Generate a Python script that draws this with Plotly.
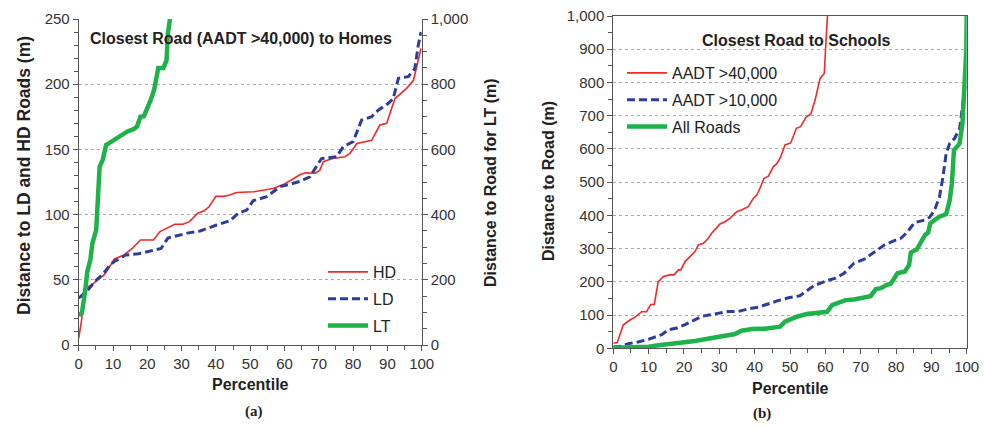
import plotly.graph_objects as go

# ---------------- data: panel (a) homes ----------------
hd_pct = [0, 0.9, 1.5, 3.7, 5.1, 7.5, 9, 10.4, 13.2, 15.6, 18, 21.8, 23.7, 26, 28, 30.4,
          32.3, 34.7, 36.6, 38, 40, 42.3, 44, 46, 51, 56.7, 59.6, 62, 64.5, 66, 69, 70.3,
          71.3, 74, 77.6, 79.1, 81.1, 85.4, 87.8, 89.8, 91.1, 92.2, 95.6, 97.6, 99, 99.8]
hd_dist = [5, 20, 43, 46, 49, 54, 60, 66, 69, 74, 80.5, 80.5, 87, 90, 92.6, 92.6,
           94.6, 101, 103, 106, 114, 114, 115, 117, 117.5, 120, 123, 126.5, 130.5, 132, 131.7, 134,
           140.6, 143, 144.4, 147, 154.5, 157, 168.7, 170, 180, 189, 196.8, 203, 218.6, 227.5]

ld_pct = [0, 2.3, 4.2, 5.6, 7, 9, 10.4, 13.7, 17.5, 21.3, 24, 26, 29, 32, 35.4, 37.5,
          40.2, 44.1, 46.5, 49, 50.9, 54.8, 58.7, 62.6, 64.5, 67.4, 70.8, 75.2, 77.1, 80,
          82.5, 85.4, 87.3, 90.3, 91.7, 93.2, 96.1, 98, 99, 99.8]
ld_dist = [36, 41, 47, 51, 54, 61, 64, 69, 70, 72, 74, 82, 84, 86, 87.4, 89.5,
           92, 95.3, 101, 103.5, 110.7, 113.7, 121.4, 124, 125.5, 129, 143, 144.4, 152, 156,
           172.5, 175, 180, 185.3, 189, 204.5, 205.8, 212, 230, 240]

lt_pct = [0, 0.9, 1.8, 2.5, 3.4, 4, 5.1, 6.1, 7, 8, 9, 10.4, 12.3, 14.2, 16, 17, 18, 19,
          21, 22, 23.2, 24.7, 25.6, 26, 26.6]
lt_dist = [92, 97, 158, 225, 261, 312, 353, 547, 568, 614, 620, 630, 645, 655, 662, 670, 700, 702,
           752, 783, 850, 850, 873, 955, 1000]

# ---------------- data: panel (b) schools ----------------
a40_pct = [0, 1.1, 2.8, 4.7, 6.1, 8, 9.4, 10.6, 11.6, 12.7, 14.2, 16, 17.2, 18.4, 19.1, 20.3,
           21.7, 23.1, 24.1, 25.5, 26.9, 27.8, 29.1, 30.2, 31.6, 33, 34.9, 36.3, 38.2, 39.6,
           40.6, 41.5, 42.6, 43.9, 45.3, 46.2, 47.2, 48.6, 50.2, 51.8, 53, 54.5, 55.9, 57.1,
           58.5, 59.7, 60.2, 60.6]
a40_dist = [15, 17, 70, 85, 93, 110, 110, 132, 132, 200, 216, 221, 221, 236, 236, 261,
            276, 291, 311, 316, 331, 346, 361, 374, 381, 391, 411, 416, 426, 451,
            461, 481, 511, 518, 547, 555, 572, 612, 618, 662, 667, 695, 705, 747,
            812, 827, 928, 1000]

a10_pct = [0, 2.4, 4.2, 7, 9.9, 11.8, 13.7, 15.6, 18, 20.3, 23.1, 25, 27.4, 29.8, 32.6, 35.4,
           38.3, 41.1, 43.9, 46.8, 49.6, 51.5, 52.8, 54.1, 56.7, 60.5, 62.9, 65.3, 68.1, 71,
           74.3, 76.7, 79.5, 81.4, 83.3, 85.2, 88.1, 89.5, 90.9, 92.3, 93.3, 94.2, 95.2, 96.6,
           98, 99, 99.6]
a10_dist = [4, 6, 14, 19, 27, 33, 41, 56, 61, 71, 86, 96, 101, 106, 111, 111,
            119, 124, 135, 144, 152, 155, 158, 168, 188, 204, 211, 226, 256, 268,
            294, 311, 324, 331, 351, 378, 386, 394, 416, 456, 517, 587, 617, 632,
            662, 747, 792]

all_pct = [0, 5.2, 10, 12.8, 16.5, 20.3, 23.1, 25.9, 28.8, 31.6, 34.4, 36.3, 39.2, 42.9, 45.8,
           47.2, 48.6, 50, 51.9, 54.7, 57.6, 60.5, 61.9, 63.8, 65.7, 68.1, 70.9, 72.8, 74.3,
           75.7, 77.4, 78.5, 80.4, 82.5, 83.7, 84.2, 85.9, 87, 88.2, 89.1, 89.7, 90.9, 92.3,
           94.2, 95.2, 95.8, 96.4, 97.3, 98, 98.8, 99.4, 99.9, 100]
all_dist = [2, 3, 5, 9, 13, 18, 22, 27, 33, 40, 43, 53, 58, 59, 63,
            65, 80, 87, 95, 103, 107, 110, 130, 137, 145, 147, 153, 157, 178,
            181, 191, 194, 226, 231, 251, 288, 298, 321, 341, 348, 376, 386, 396,
            404, 446, 496, 597, 607, 617, 677, 777, 898, 1000]

# ---------------- styling ----------------
W, H = 984, 426
RED = '#ee2a2a'
BLUE = '#2e3c9a'
GREEN = '#1fb24a'
AXC = '#555555'
SANS = 'Liberation Sans, Arial, Helvetica, sans-serif'
SERIF = 'Liberation Serif, Times New Roman, serif'
TICKF = dict(family=SANS, size=15, color='#333333')
DASH = '8px,4px'


def px(x):
    return x / W


def py(y):
    return 1 - y / H


fig = go.Figure()

# panel (a)
fig.add_trace(go.Scatter(x=hd_pct, y=hd_dist, name='HD', mode='lines', legendgroup='hd',
                         line=dict(color=RED, width=1.6), xaxis='x', yaxis='y', legend='legend'))
fig.add_trace(go.Scatter(x=ld_pct, y=ld_dist, name='LD', mode='lines', legendgroup='ld',
                         line=dict(color=BLUE, width=3, dash=DASH), xaxis='x', yaxis='y',
                         legend='legend'))
fig.add_trace(go.Scatter(x=lt_pct, y=lt_dist, name='LT', mode='lines', legendgroup='lt',
                         line=dict(color=GREEN, width=4.5), xaxis='x', yaxis='y2', legend='legend'))

# panel (b)
fig.add_trace(go.Scatter(x=a40_pct, y=a40_dist, name='AADT >40,000', mode='lines', legendgroup='a40',
                         line=dict(color=RED, width=1.6), xaxis='x2', yaxis='y3', legend='legend2'))
fig.add_trace(go.Scatter(x=a10_pct, y=a10_dist, name='AADT >10,000', mode='lines', legendgroup='a10',
                         line=dict(color=BLUE, width=3, dash=DASH), xaxis='x2', yaxis='y3',
                         legend='legend2'))
fig.add_trace(go.Scatter(x=all_pct, y=all_dist, name='All Roads', mode='lines', legendgroup='all',
                         line=dict(color=GREEN, width=4.5), xaxis='x2', yaxis='y3', legend='legend2'))

common_x = dict(range=[0, 100], dtick=10, tick0=0, ticks='outside', ticklen=5, tickcolor=AXC,
                showline=True, linecolor=AXC, linewidth=1, showgrid=False, zeroline=False,
                tickfont=TICKF, fixedrange=True, automargin=False, ticklabeloverflow='allow',
                minor=dict(dtick=5, tick0=0, ticks='outside', ticklen=4, tickcolor=AXC, showgrid=False))
common_y = dict(ticks='outside', ticklen=5, tickcolor=AXC, showline=True, linecolor=AXC,
                linewidth=1, zeroline=False, tickfont=TICKF, fixedrange=True, automargin=False,
                ticklabeloverflow='allow')

fig.update_layout(
    width=W, height=H,
    margin=dict(l=0, r=0, t=0, b=0, autoexpand=False),
    paper_bgcolor='white', plot_bgcolor='white',
    showlegend=True,
    xaxis=dict(domain=[px(78.7), px(421.7)], anchor='y', **common_x),
    yaxis=dict(domain=[py(345), py(19)], anchor='x', range=[0, 250], dtick=50,
               showgrid=True, gridcolor='#a8a8a8', griddash='dot', gridwidth=1,
               minor=dict(dtick=10, ticks='outside', ticklen=4, tickcolor=AXC, showgrid=False),
               **common_y),
    yaxis2=dict(overlaying='y', side='right', anchor='x', range=[0, 1000], dtick=200,
                tickformat=',', showgrid=False,
                minor=dict(dtick=50, ticks='outside', ticklen=4, tickcolor=AXC, showgrid=False),
                **common_y),
    xaxis2=dict(domain=[px(613.3), px(966.7)], anchor='y3', mirror=True, **common_x),
    yaxis3=dict(domain=[py(348.3), py(16)], anchor='x2', range=[0, 1000], dtick=100,
                tickformat=',', mirror=True,
                showgrid=True, gridcolor='#a8a8a8', griddash='dot', gridwidth=1,
                minor=dict(dtick=50, ticks='outside', ticklen=4, tickcolor=AXC, showgrid=False),
                **common_y),
    legend=dict(x=px(323), y=py(255), xanchor='left', yanchor='top', itemwidth=40,
                tracegroupgap=3, bgcolor='rgba(0,0,0,0)', borderwidth=0,
                font=dict(family=SANS, size=16, color='#222222'), itemclick=False),
    legend2=dict(x=px(622), y=py(56), xanchor='left', yanchor='top', itemwidth=40,
                 tracegroupgap=3, bgcolor='rgba(0,0,0,0)', borderwidth=0,
                 font=dict(family=SANS, size=16, color='#222222'), itemclick=False),
)

TXT = '#222222'
annots = [
    dict(text='<b>Closest Road (AADT >40,000) to Homes</b>', x=px(241), y=py(38.5), size=16, fam=SANS),
    dict(text='<b>Closest Road to Schools</b>', x=px(796), y=py(40), size=16, fam=SANS),
    dict(text='<b>Percentile</b>', x=px(250.5), y=py(384), size=16, fam=SANS),
    dict(text='<b>Percentile</b>', x=px(790), y=py(388), size=16, fam=SANS),
    dict(text='<b>(a)</b>', x=px(254), y=py(411), size=15, fam=SERIF),
    dict(text='<b>(b)</b>', x=px(762), y=py(413), size=15, fam=SERIF),
]
for a in annots:
    fig.add_annotation(text=a['text'], x=a['x'], y=a['y'], xref='paper', yref='paper',
                       xanchor='center', yanchor='middle', showarrow=False,
                       font=dict(family=a['fam'], size=a['size'], color=TXT))

vtitles = [
    ('<b>Distance to LD and HD Roads (m)</b>', 24, 176, 17.5),
    ('<b>Distance to Road for LT (m)</b>', 490, 183, 16),
    ('<b>Distance to Road (m)</b>', 548, 181, 16),
]
for t, x, y, s in vtitles:
    fig.add_annotation(text=t, x=px(x), y=py(y), xref='paper', yref='paper',
                       xanchor='center', yanchor='middle', showarrow=False, textangle=-90,
                       font=dict(family=SANS, size=s, color=TXT))

fig.write_html('out.html', config={'displayModeBar': False, 'staticPlot': True},
               post_script="document.body.style.margin='0';document.body.style.overflow='hidden';")
